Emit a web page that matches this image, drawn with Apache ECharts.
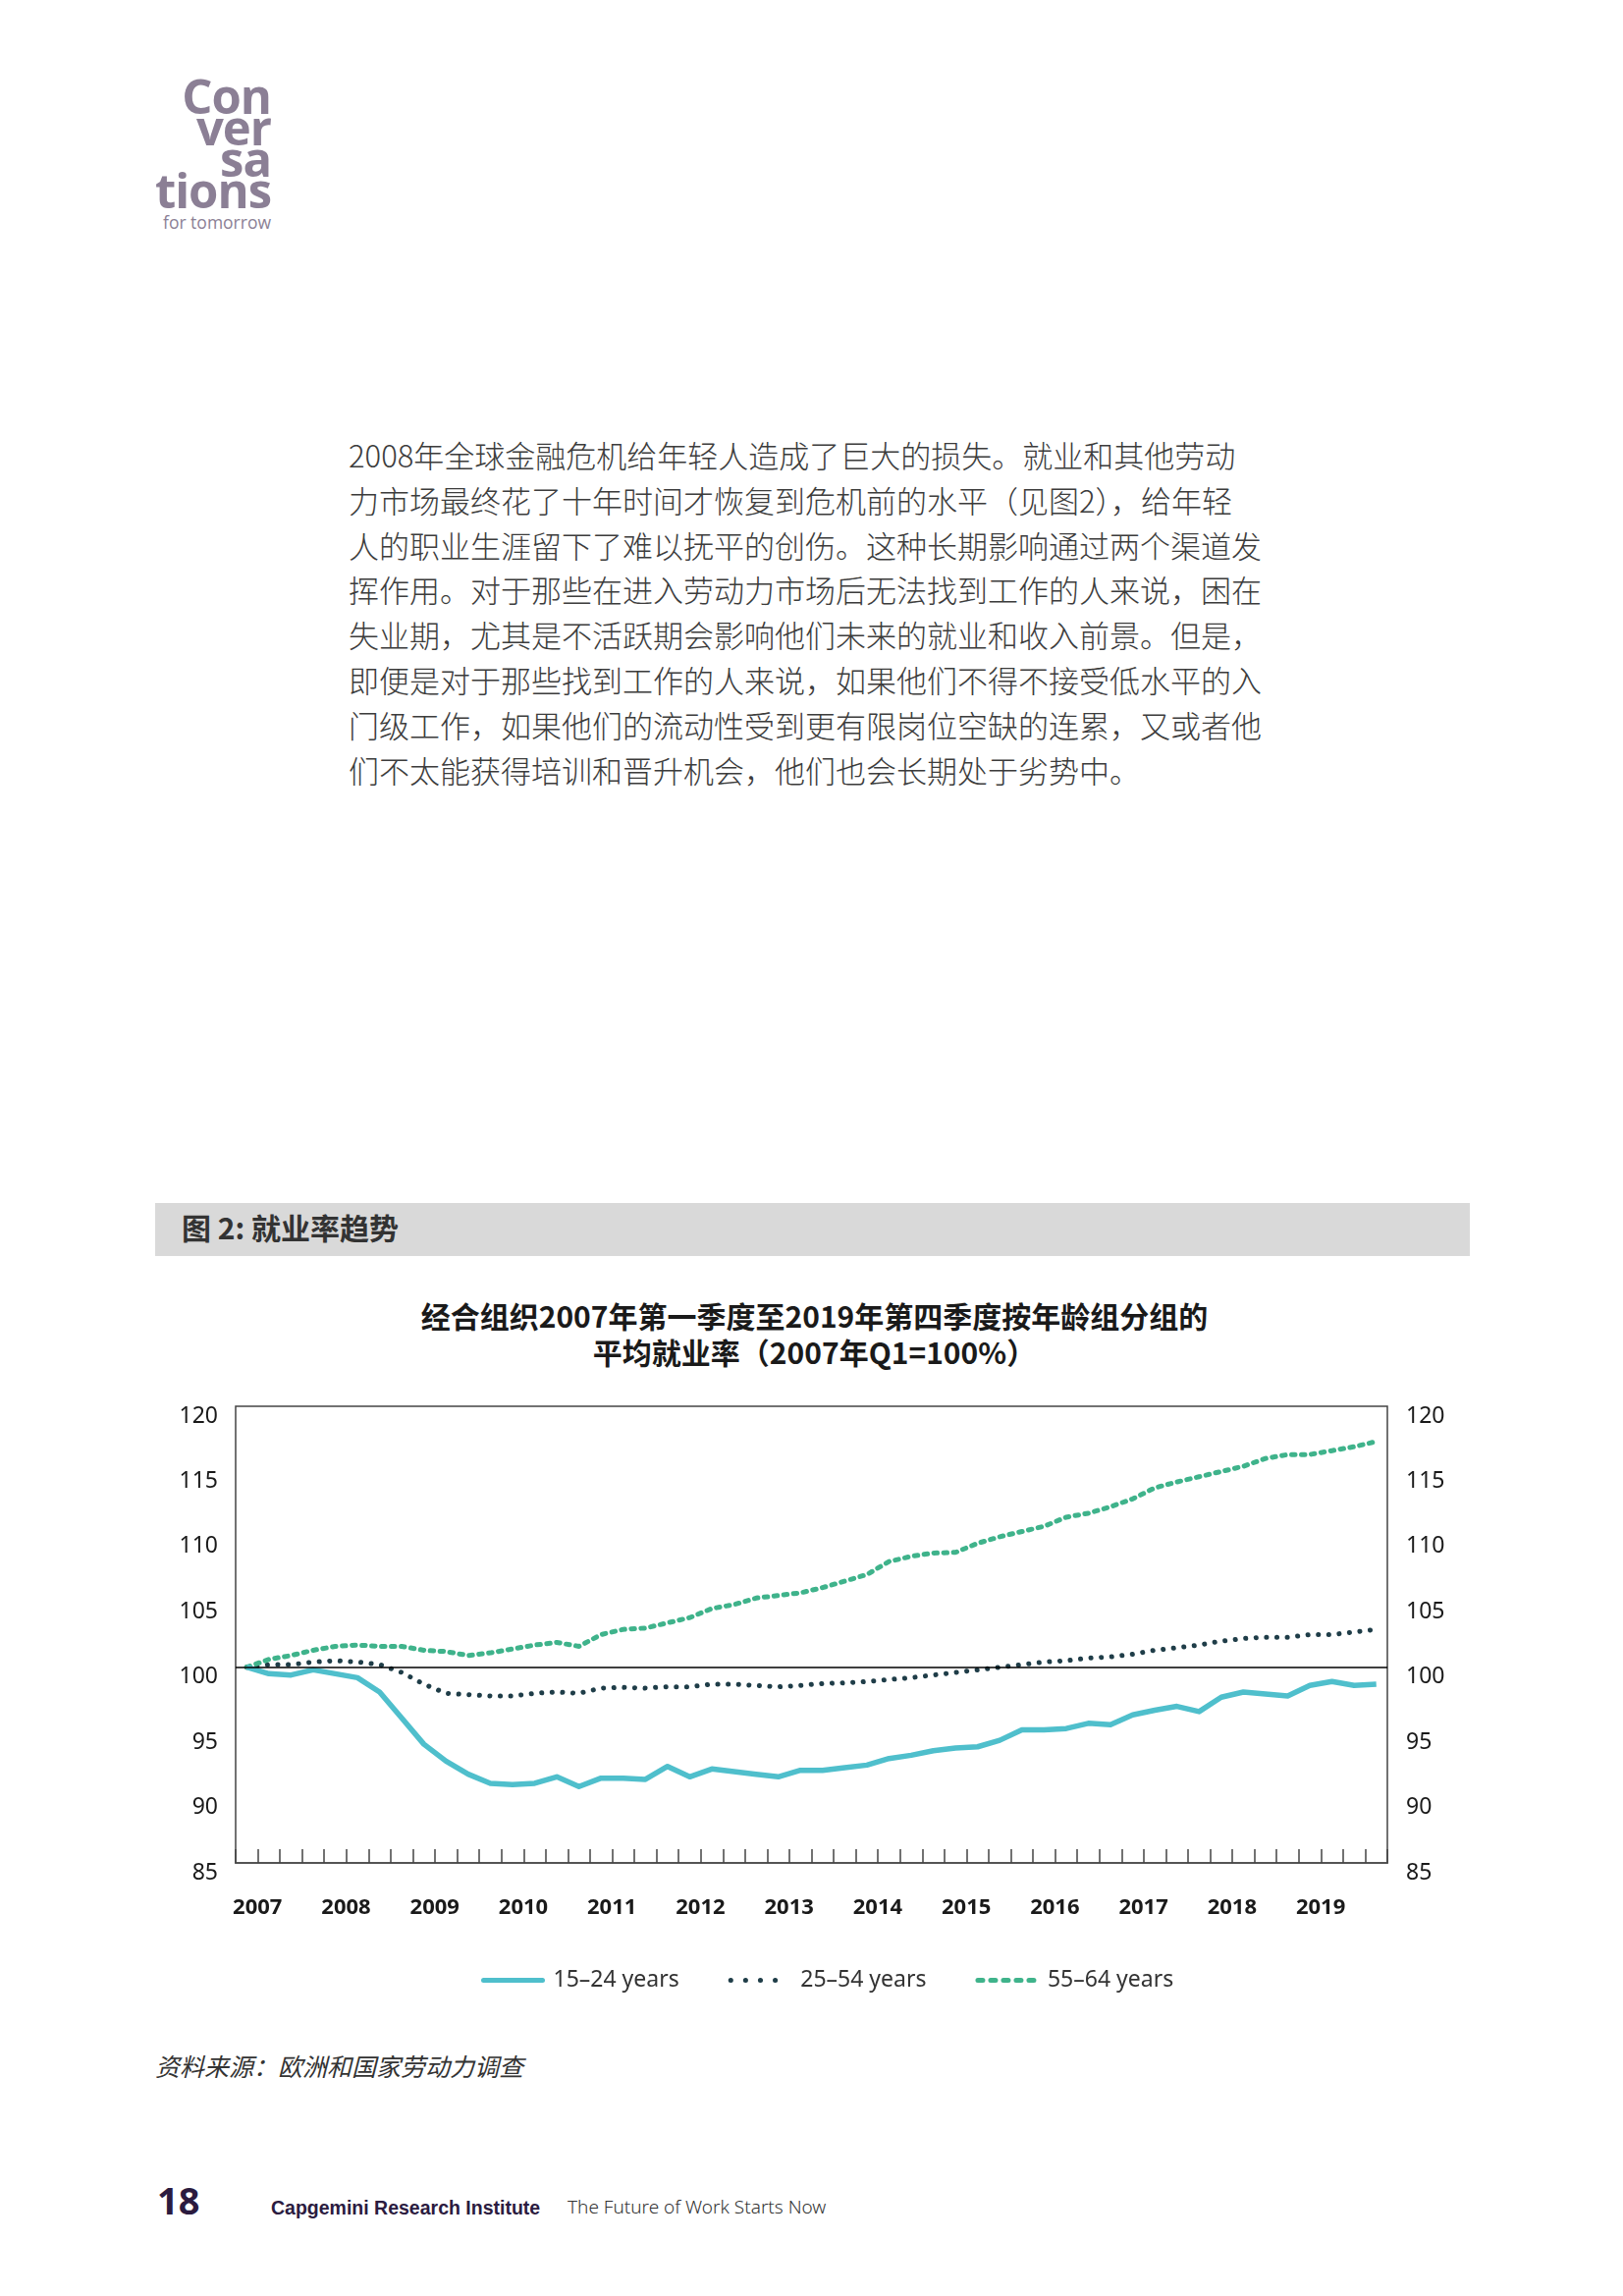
<!DOCTYPE html>
<html><head><meta charset="utf-8">
<script src="https://cdn.jsdelivr.net/npm/echarts@6/dist/echarts.min.js"></script>
<style>
html,body{margin:0;padding:0}
body{width:1653px;height:2338px;background:#fff;position:relative;overflow:hidden;font-family:"Noto Sans","Noto Sans CJK SC",sans-serif}
.abs{position:absolute;white-space:nowrap}
.logo{right:1377px;top:81px;font-family:"Open Sans","Noto Sans",sans-serif;font-weight:700;font-size:49px;line-height:32px;color:#8b7f95;text-align:right;letter-spacing:-1px}
.logo2{left:166px;top:217px;font-family:"Open Sans","Noto Sans",sans-serif;font-size:17.5px;line-height:19px;color:#8b7f95}
.para{left:355px;top:440px;font-family:"Noto Sans CJK SC",sans-serif;font-size:31px;line-height:45.8px;color:#3c3c3c;font-weight:300}
.bar{left:158px;top:1225px;width:1339px;height:54px;background:#d9d9d9}
.bartxt{left:185px;top:1222px;height:54px;line-height:54px;font-family:"Noto Sans CJK SC",sans-serif;font-weight:700;font-size:30px;color:#333}
.ctitle{left:3px;width:1653px;top:1321px;text-align:center;font-family:"Noto Sans CJK SC",sans-serif;font-weight:700;font-size:30px;line-height:37px;color:#1a1a1a}
#chart{position:absolute;left:0;top:1400px;width:1653px;height:680px}
.src{left:158px;top:2085px;font-family:"Noto Sans CJK SC",sans-serif;font-style:italic;font-size:25px;line-height:36px;color:#333}
.pg{left:160px;top:2216px;font-family:"Noto Sans",sans-serif;font-weight:700;font-size:38px;line-height:48px;color:#2b1b3f}
.cri{left:276px;top:2235px;font-family:"Liberation Sans",Arial,sans-serif;font-weight:700;font-size:19.5px;line-height:26px;color:#2b1b3f}
.fut{left:578px;top:2234px;font-family:"Noto Sans",sans-serif;font-weight:300;font-size:19px;line-height:26px;color:#333}
</style></head>
<body>
<div class="abs logo">Con<br>ver<br>sa<br>tions</div>
<div class="abs logo2">for tomorrow</div>
<div class="abs para">2008年全球金融危机给年轻人造成了巨大的损失。就业和其他劳动<br>力市场最终花了十年时间才恢复到危机前的水平（见图2），给年轻<br>人的职业生涯留下了难以抚平的创伤。这种长期影响通过两个渠道发<br>挥作用。对于那些在进入劳动力市场后无法找到工作的人来说，困在<br>失业期，尤其是不活跃期会影响他们未来的就业和收入前景。但是，<br>即便是对于那些找到工作的人来说，如果他们不得不接受低水平的入<br>门级工作，如果他们的流动性受到更有限岗位空缺的连累，又或者他<br>们不太能获得培训和晋升机会，他们也会长期处于劣势中。</div>
<div class="abs bar"></div>
<div class="abs bartxt">图 2: 就业率趋势</div>
<div class="abs ctitle">经合组织2007年第一季度至2019年第四季度按年龄组分组的<br>平均就业率（2007年Q1=100%）</div>
<div id="chart"></div>
<div class="abs src">资料来源：欧洲和国家劳动力调查</div>
<div class="abs pg">18</div>
<div class="abs cri">Capgemini Research Institute</div>
<div class="abs fut">The Future of Work Starts Now</div>
<script>
var years = ['2007','2008','2009','2010','2011','2012','2013','2014','2015','2016','2017','2018','2019'];
var quarters = ['Q1','Q2','Q3','Q4'];
var yTicks = [85,90,95,100,105,110,115,120];
var seriesNames = ['15–24 years','25–54 years','55–64 years'];
var age15_24 = [100.0,99.5,99.4,99.8,99.5,99.2,98.1,96.1,94.1,92.8,91.8,91.1,91.0,91.1,91.6,90.85,91.5,91.5,91.4,92.4,91.6,92.2,92.0,91.8,
  91.6,92.1,92.1,92.3,92.5,93.0,93.25,93.6,93.8,93.9,94.4,95.2,95.2,95.3,95.7,95.6,96.35,96.7,97.0,96.6,97.7,98.1,97.95,97.8,98.6,98.9,98.6,98.7];
var age25_54 = [100.0,100.2,100.2,100.4,100.5,100.4,100.2,99.6,98.7,98.0,97.9,97.8,97.8,98.0,98.1,98.0,98.4,98.45,98.4,98.5,98.5,98.7,98.7,98.6,
  98.5,98.6,98.75,98.8,98.9,99.05,99.2,99.4,99.6,99.8,100.0,100.2,100.4,100.5,100.7,100.8,101.0,101.3,101.5,101.7,102.0,102.2,102.3,102.3,102.5,102.5,102.7,102.9];
var age55_64 = [100.0,100.6,100.9,101.3,101.6,101.7,101.6,101.6,101.3,101.2,100.9,101.1,101.4,101.7,101.9,101.6,102.5,102.9,103.0,103.4,103.8,104.5,104.8,105.3,
  105.5,105.7,106.1,106.6,107.1,108.1,108.5,108.75,108.8,109.5,110.0,110.4,110.8,111.5,111.8,112.3,112.9,113.75,114.2,114.6,115.0,115.4,116.0,116.3,116.3,116.6,116.9,117.3];
var baseline = 100;

var cats = [];
years.forEach(function(y){ quarters.forEach(function(q){ cats.push(y + q); }); });

var chart = echarts.init(document.getElementById('chart'), null, {renderer:'canvas'});
var labelStyle = {fontFamily:'Noto Sans', fontSize:23, color:'#1a1a1a'};
function yAxisDef(pos, margin){
  return {type:'value', position:pos, min:yTicks[0], max:yTicks[yTicks.length-1], interval:5,
    axisLine:{show:false}, axisTick:{show:false}, splitLine:{show:false},
    axisLabel:Object.assign({margin:margin, verticalAlign:'top', lineHeight:22, padding:[-1,0,0,0]}, labelStyle)};
}
chart.setOption({
  animation:false,
  grid:{left:240, right:240, top:32, height:465, show:true, borderColor:'#444', borderWidth:1.5, backgroundColor:'transparent'},
  legend:{left:485, top:600, itemWidth:60, itemHeight:14, itemGap:50,
    itemStyle:{opacity:0},
    lineStyle:{width:5, cap:'round'},
    textStyle:{fontFamily:'Noto Sans', fontSize:23, color:'#333', padding:[0,0,0,6]},
    data:[
      {name:seriesNames[0]},
      {name:seriesNames[1], lineStyle:{width:5, cap:'round', type:[0.1,15]}},
      {name:seriesNames[2], lineStyle:{width:5, cap:'round', type:[5,8]}}
    ]},
  xAxis:{type:'category', data:cats, boundaryGap:true,
    axisLine:{show:true, lineStyle:{color:'#555', width:2}},
    axisTick:{show:true, inside:true, length:14, interval:0, lineStyle:{color:'#444', width:1.5}},
    axisLabel:{interval:function(i){return i%4===0;}, formatter:function(v){return v.slice(0,4);},
      margin:35, padding:[0,0,0,22], fontFamily:'Noto Sans', fontSize:22, fontWeight:'bold', color:'#1a1a1a'}},
  yAxis:[yAxisDef('left',18), yAxisDef('right',19)],
  series:[
    {name:seriesNames[0], type:'line', data:age15_24, symbol:'none', z:3,
      lineStyle:{color:'#4fbfcc', width:5.5, type:'solid', join:'round'}, itemStyle:{color:'#4fbfcc'},
      markLine:{silent:true, symbol:'none', label:{show:false}, lineStyle:{color:'#000', width:1.5, type:'solid'}, data:[{yAxis:baseline}]}},
    {name:seriesNames[1], type:'line', data:age25_54, symbol:'none', z:2,
      lineStyle:{color:'#1f3d48', width:5, type:[0.1,10.5], cap:'round'}, itemStyle:{color:'#1f3d48'}},
    {name:seriesNames[2], type:'line', data:age55_64, symbol:'none', z:2,
      lineStyle:{color:'#3fb38b', width:5, type:[3.5,6.5], cap:'round'}, itemStyle:{color:'#3fb38b'}}
  ]
});
</script>
</body></html>
